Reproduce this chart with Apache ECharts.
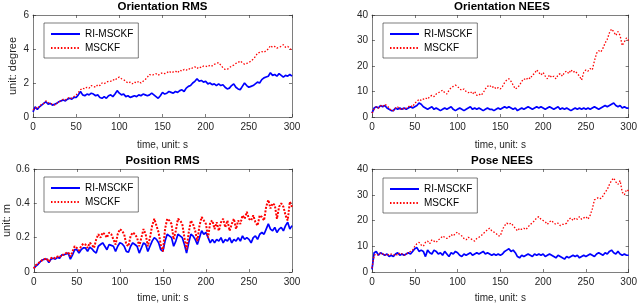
<!DOCTYPE html>
<html><head><meta charset="utf-8">
<script src="https://cdn.jsdelivr.net/npm/echarts@6/dist/echarts.min.js"></script>
<style>html,body{margin:0;padding:0;background:#fff}#c{width:640px;height:304px}</style>
</head><body><div id="c"></div>
<script>
const time = [0,2.5,5,7.5,10,12.5,15,17.5,20,22.5,
25,27.5,30,32.5,35,37.5,40,42.5,45,47.5,
50,52.5,55,57.5,60,62.5,65,67.5,70,72.5,
75,77.5,80,82.5,85,87.5,90,92.5,95,97.5,
100,102.5,105,107.5,110,112.5,115,117.5,120,122.5,
125,127.5,130,132.5,135,137.5,140,142.5,145,147.5,
150,152.5,155,157.5,160,162.5,165,167.5,170,172.5,
175,177.5,180,182.5,185,187.5,190,192.5,195,197.5,
200,202.5,205,207.5,210,212.5,215,217.5,220,222.5,
225,227.5,230,232.5,235,237.5,240,242.5,245,247.5,
250,252.5,255,257.5,260,262.5,265,267.5,270,272.5,
275,277.5,280,282.5,285,287.5,290,292.5,295,297.5,
300];
const seriesNames = ['RI-MSCKF','MSCKF'];

const oriRmsRI = [0.3,0.6,0.45,0.6,0.7,0.8,0.9,0.75,0.8,0.7,
0.75,0.8,0.9,0.95,1.0,0.95,1.05,1.1,1.05,1.15,
1.15,1.3,1.5,1.3,1.25,1.35,1.3,1.4,1.35,1.25,
1.3,1.15,1.1,1.2,1.1,1.25,1.3,1.2,1.35,1.55,
1.4,1.3,1.35,1.2,1.25,1.15,1.2,1.25,1.2,1.3,
1.25,1.35,1.3,1.25,1.3,1.4,1.3,1.2,1.1,1.25,
1.45,1.35,1.4,1.5,1.45,1.4,1.5,1.45,1.55,1.6,
1.5,1.7,1.8,1.85,2.0,2.1,2.25,2.1,2.15,2.05,
2.1,1.95,2.0,1.9,1.95,1.85,1.95,1.85,1.9,1.75,
1.65,1.7,1.85,1.95,1.75,1.65,1.6,1.8,2.0,1.85,
1.75,1.8,1.85,1.95,2.05,2.0,2.2,2.3,2.35,2.4,
2.6,2.45,2.5,2.4,2.55,2.45,2.35,2.45,2.4,2.5,
2.4];
const oriRmsMS = [0.4,0.55,0.5,0.65,0.75,0.8,0.95,0.85,0.8,0.75,
0.7,0.8,0.9,0.95,1.05,1.0,1.1,1.15,1.1,1.2,
1.3,1.45,1.6,1.7,1.65,1.75,1.7,1.85,1.8,1.75,
1.9,1.85,2.0,1.95,2.05,2.1,2.1,2.2,2.15,2.3,
2.35,2.25,2.2,2.1,2.0,2.05,1.95,2.05,2.0,2.1,
2.0,2.1,2.2,2.35,2.5,2.45,2.5,2.55,2.45,2.55,
2.6,2.55,2.6,2.7,2.6,2.65,2.7,2.6,2.75,2.7,
2.8,2.75,2.85,2.8,2.9,2.95,2.85,2.95,2.9,3.0,
3.0,2.95,3.05,3.0,3.1,3.15,3.2,3.05,2.9,2.8,
2.8,2.9,3.0,3.05,3.15,3.2,3.3,3.2,3.1,3.15,
3.2,3.3,3.4,3.55,3.75,3.8,3.85,3.8,3.9,4.0,
4.2,4.1,4.15,4.05,4.1,4.15,4.25,4.1,4.15,4.05,
3.9];

const oriNeesRI = [1.5,3.5,4.0,3.5,4.5,4.0,4.5,3.5,3.0,2.5,
2.5,3.5,3.0,3.5,3.0,3.5,3.0,3.5,4.0,3.5,
4.0,4.5,5.5,5.0,4.0,3.5,3.0,3.5,4.0,3.0,
3.5,3.0,2.5,3.0,3.5,3.0,3.5,4.0,3.0,2.5,
3.0,3.5,3.0,2.5,3.0,3.5,4.0,3.0,3.5,3.0,
3.5,3.0,2.5,3.0,3.5,3.0,3.0,2.5,3.0,3.5,
3.0,3.5,4.0,3.5,4.0,3.5,3.0,3.5,2.5,3.0,
3.5,3.0,3.5,4.0,3.5,3.0,3.5,4.0,3.5,4.0,
3.5,3.0,3.5,4.0,3.5,3.0,3.5,4.0,3.0,3.5,
3.0,3.5,3.0,2.5,3.0,3.5,3.0,3.5,3.0,3.5,
3.0,3.5,3.0,3.5,4.0,3.5,3.0,3.5,4.0,4.5,
4.0,4.5,5.0,5.5,4.5,4.0,4.5,3.5,4.0,3.5,
3.5];
const oriNeesMS = [1.5,3.0,4.0,3.5,4.5,4.0,5.0,4.5,3.5,2.5,
2.5,3.5,4.0,3.0,3.5,3.0,3.5,4.0,4.5,4.0,
5.5,6.0,7.0,6.5,7.0,7.5,7.0,8.0,8.5,8.0,
9.0,9.5,10.0,10.5,9.5,9.0,10.5,11.5,12.0,12.5,
12.0,11.0,10.5,11.0,10.0,9.5,10.0,9.0,10.0,8.5,
9.0,8.5,9.5,11.0,12.0,12.5,11.5,12.0,11.0,11.5,
11.0,12.0,13.5,14.5,15.0,14.0,12.5,11.0,11.5,12.5,
14.0,15.0,14.5,15.5,15.0,16.5,17.0,18.5,17.5,16.5,
17.5,16.0,15.0,16.5,15.5,16.0,15.0,16.5,17.0,16.0,
17.5,18.0,17.0,18.5,17.5,18.0,17.0,16.0,14.5,17.5,
18.5,18.0,19.0,18.5,22.0,25.0,26.0,25.5,27.0,29.0,
30.5,33.0,34.5,33.5,32.0,33.5,32.0,28.0,29.5,31.0,
30.0];

const posRmsRI = [0.02,0.035,0.045,0.06,0.07,0.075,0.075,0.055,0.075,0.08,
0.075,0.085,0.08,0.1,0.1,0.105,0.11,0.075,0.1,0.13,
0.13,0.11,0.13,0.14,0.14,0.12,0.145,0.135,0.12,0.11,
0.15,0.16,0.17,0.15,0.13,0.16,0.155,0.15,0.12,0.15,
0.17,0.165,0.15,0.12,0.115,0.15,0.17,0.16,0.15,0.11,
0.14,0.17,0.16,0.12,0.15,0.18,0.2,0.19,0.17,0.13,
0.12,0.18,0.22,0.21,0.2,0.15,0.18,0.22,0.21,0.2,
0.16,0.11,0.17,0.22,0.21,0.19,0.16,0.2,0.24,0.22,
0.23,0.2,0.17,0.19,0.17,0.19,0.18,0.2,0.17,0.19,
0.18,0.2,0.17,0.19,0.18,0.2,0.18,0.21,0.19,0.2,
0.19,0.17,0.2,0.21,0.19,0.22,0.23,0.22,0.25,0.28,
0.25,0.24,0.26,0.23,0.25,0.26,0.24,0.27,0.29,0.25,
0.27];
const posRmsMS = [0.02,0.04,0.05,0.06,0.07,0.075,0.08,0.06,0.08,0.085,
0.08,0.09,0.085,0.1,0.1,0.11,0.115,0.09,0.12,0.15,
0.14,0.125,0.15,0.165,0.16,0.14,0.17,0.16,0.14,0.19,
0.22,0.2,0.23,0.22,0.2,0.23,0.22,0.19,0.16,0.22,
0.25,0.24,0.22,0.16,0.15,0.21,0.23,0.22,0.2,0.15,
0.2,0.25,0.22,0.15,0.2,0.27,0.31,0.27,0.23,0.16,
0.12,0.25,0.31,0.3,0.28,0.19,0.24,0.31,0.3,0.28,
0.2,0.13,0.23,0.3,0.28,0.24,0.18,0.27,0.32,0.3,
0.28,0.2,0.29,0.3,0.25,0.29,0.24,0.29,0.31,0.26,
0.3,0.24,0.28,0.31,0.25,0.3,0.28,0.33,0.31,0.35,
0.31,0.3,0.33,0.29,0.27,0.33,0.32,0.3,0.38,0.42,
0.37,0.4,0.39,0.31,0.38,0.4,0.38,0.33,0.3,0.41,
0.38];

const poseNeesRI = [1.0,7.5,8.0,6.5,7.5,7.0,6.5,7.0,6.0,6.5,
6.0,7.0,7.5,6.5,7.0,6.5,7.0,7.5,7.0,8.0,
9.0,9.5,8.0,8.5,8.0,6.0,8.5,7.5,7.0,8.5,
8.0,7.0,7.5,6.5,8.0,7.0,6.0,7.5,7.0,8.0,
7.5,6.5,6.0,7.0,6.5,7.0,7.5,6.5,7.0,7.5,
7.0,7.5,8.0,7.0,7.5,7.0,6.5,7.0,6.5,7.0,
6.5,7.0,8.0,8.5,9.0,8.0,8.5,7.5,6.0,5.5,
6.5,6.0,6.5,7.0,6.5,6.0,7.0,6.5,7.0,6.5,
7.0,6.0,6.5,7.0,6.5,6.0,5.5,6.5,6.0,5.5,
5.0,6.0,5.5,6.0,6.5,6.0,6.5,5.5,6.0,6.5,
6.0,6.5,7.0,6.5,6.0,7.0,7.5,7.0,6.5,7.5,
7.0,8.0,8.5,7.5,7.0,8.0,7.0,6.5,7.0,6.5,
6.5];
const poseNeesMS = [1.5,6.5,7.0,6.5,7.5,7.0,6.5,7.0,6.5,7.0,
6.5,7.0,6.5,7.5,7.0,6.5,7.0,7.5,8.0,8.5,
10.0,11.0,11.5,10.5,10.0,11.5,12.0,11.0,12.5,12.0,
11.5,12.5,13.0,14.0,13.5,13.0,13.5,14.5,14.0,15.0,
15.5,14.5,14.0,13.0,12.5,13.5,13.0,12.5,12.0,13.0,
13.5,14.0,15.0,15.5,16.5,17.0,16.0,15.5,15.0,14.0,
14.0,16.5,18.0,19.0,18.5,19.0,18.0,17.0,16.0,17.0,
16.5,17.0,16.5,17.5,18.5,19.0,20.0,21.0,21.5,20.5,
20.0,19.5,18.5,19.5,20.0,19.0,18.5,19.0,18.0,18.5,
18.5,19.0,20.5,21.0,20.0,21.0,20.5,21.5,20.5,21.0,
21.5,20.5,22.0,24.5,28.0,28.5,29.0,28.5,29.5,31.0,
32.0,34.0,35.5,36.5,35.0,34.0,35.5,31.0,30.0,32.0,
31.5];

const panels = [
  {title:'Orientation RMS', yName:'unit: degree', yMax:6, yInt:2, ri:oriRmsRI, ms:oriRmsMS},
  {title:'Orientation NEES', yName:'', yMax:40, yInt:10, ri:oriNeesRI, ms:oriNeesMS},
  {title:'Position RMS', yName:'unit: m', yMax:0.6, yInt:0.2, ri:posRmsRI, ms:posRmsMS},
  {title:'Pose NEES', yName:'', yMax:40, yInt:10, ri:poseNeesRI, ms:poseNeesMS}
];
const boxes = [
  {left:33, top:15, width:259, height:102},
  {left:372, top:15, width:260, height:102},
  {left:33, top:169, width:259, height:103},
  {left:372, top:169, width:260, height:103}
];
const msWidth = [1.3, 1.3, 2, 1.3];
const msDash = [[1.5,1.8],[1.5,1.8],[2,1.5],[1.5,1.8]];
const xNameGap = [23, 23, 21, 21];
const legendTop = [23, 23, 177, 178];
const legendLeft = [44, 383, 44, 383];
const titleTop = [1, 1, 155, 155];

const FONT = 'Liberation Sans, Arial, Helvetica, sans-serif';
const AX = '#262626';
const option = {
  animation: false,
  backgroundColor: '#fff',
  textStyle: {fontFamily: FONT},
  title: panels.map((p, i) => ({
    text: p.title, left: boxes[i].left + boxes[i].width / 2, top: titleTop[i],
    textAlign: 'center', textVerticalAlign: 'top', padding: 0,
    textStyle: {fontSize: 11.5, fontWeight: 'bold', color: '#000', fontFamily: FONT}
  })),
  legend: panels.map((p, i) => ({
    data: seriesNames, orient: 'vertical', left: legendLeft[i], top: legendTop[i],
    padding: [6, 5, 5, 6], itemGap: 4, itemWidth: 29, itemHeight: 10,
    backgroundColor: '#fff', borderColor: AX, borderWidth: 0.6, borderRadius: 0,
    itemStyle: {opacity: 0},
    textStyle: {fontSize: 10, color: '#000', fontFamily: FONT}
  })),
  grid: boxes.map(b => ({left: b.left, top: b.top, width: b.width, height: b.height, containLabel: false})),
  xAxis: [], yAxis: [], series: []
};
panels.forEach((p, i) => {
  const common = {type: 'value', min: 0, max: 300, interval: 50, gridIndex: i,
    axisLine: {show: true, onZero: false, lineStyle: {color: AX, width: 0.6}},
    axisTick: {show: true, inside: true, length: 3, lineStyle: {color: AX, width: 0.6}},
    splitLine: {show: false}};
  option.xAxis.push(Object.assign({}, common, {position: 'bottom',
    name: 'time, unit: s', nameLocation: 'middle', nameGap: xNameGap[i],
    nameTextStyle: {fontSize: 10, color: AX, fontFamily: FONT},
    axisLabel: {show: true, fontSize: 10, color: AX, margin: 5, fontFamily: FONT}}));
  option.xAxis.push(Object.assign({}, common, {position: 'top', axisLabel: {show: false}}));
  const ycommon = {type: 'value', min: 0, max: p.yMax, interval: p.yInt, gridIndex: i,
    axisLine: {show: true, onZero: false, lineStyle: {color: AX, width: 0.6}},
    axisTick: {show: true, inside: true, length: 3, lineStyle: {color: AX, width: 0.6}},
    splitLine: {show: false}};
  option.yAxis.push(Object.assign({}, ycommon, {position: 'left',
    name: p.yName, nameLocation: 'middle', nameGap: 15,
    nameTextStyle: {fontSize: 11, color: AX, fontFamily: FONT},
    axisLabel: {show: true, fontSize: 10, color: AX, margin: 4, fontFamily: FONT}}));
  option.yAxis.push(Object.assign({}, ycommon, {position: 'right', axisLabel: {show: false}}));
  option.series.push({
    name: seriesNames[0], type: 'line', xAxisIndex: 2 * i, yAxisIndex: 2 * i,
    symbol: 'none', showSymbol: false,
    lineStyle: {color: '#0000ff', width: 1.7},
    itemStyle: {color: '#0000ff'},
    data: time.map((t, k) => [t, p.ri[k]]), z: 2
  });
  option.series.push({
    name: seriesNames[1], type: 'line', xAxisIndex: 2 * i, yAxisIndex: 2 * i,
    symbol: 'none', showSymbol: false,
    lineStyle: {color: '#ff0000', width: msWidth[i], type: msDash[i]},
    itemStyle: {color: '#ff0000'},
    data: time.map((t, k) => [t, p.ms[k]]), z: 3
  });
});
const chart = echarts.init(document.getElementById('c'), null, {renderer: 'canvas'});
chart.setOption(option);
</script></body></html>
